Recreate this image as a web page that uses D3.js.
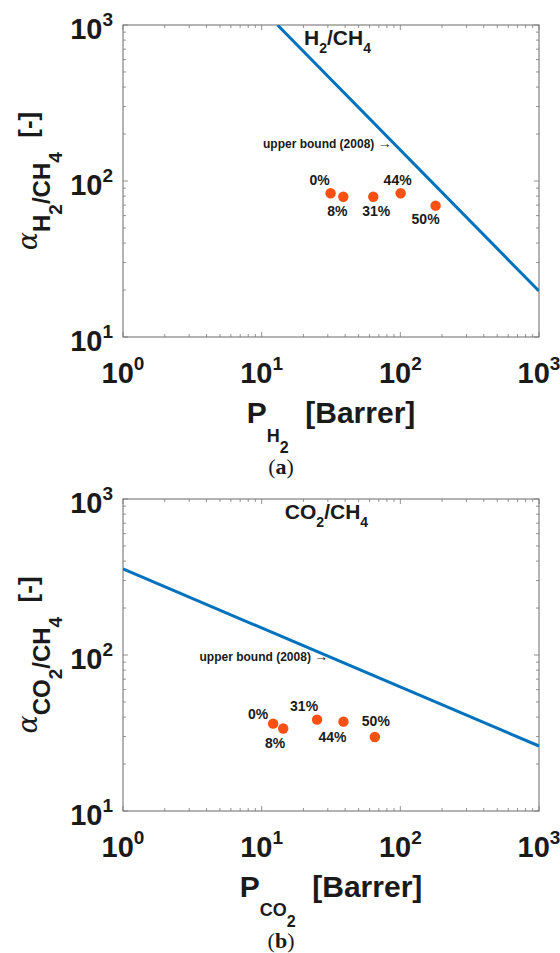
<!DOCTYPE html>
<html>
<head>
<meta charset="utf-8">
<script src="https://cdn.jsdelivr.net/npm/d3@7"></script>
<style>
  body { margin: 0; background: #fff; }
  svg { display: block; }
  text { font-family: "Liberation Sans", Arial, Helvetica, sans-serif; fill: #1a1a1a; }
</style>
</head>
<body>
<svg id="chart"></svg>
<script>
// data
const loadings = ["0%", "8%", "31%", "44%", "50%"]

const h2Perm = [31.4, 38.8, 63.8, 100.5, 179.6]
const h2Sel = [83.4, 79.3, 79.3, 83.4, 69.5]
const h2BoundPerm = [13.0, 1000]
const h2BoundSel = [1000, 19.7]

const co2Perm = [12.1, 14.3, 25.1, 38.9, 65.5]
const co2Sel = [36.3, 33.8, 38.5, 37.4, 29.8]
const co2BoundPerm = [1, 1000]
const co2BoundSel = [356, 26.1]

const xTicks = [1, 10, 100, 1000]
const yTicks = [10, 100, 1000]

// layout
var dimensions = {
  width: 560,
  height: 953,
  plotWidth: 416,
  plotHeight: 312,
  left: 123
}

const lineColor = "#0072bd"
const dotColor = "#fa5014"
const axisColor = "#777777"

var svg = d3.select("#chart")
  .attr("width", dimensions.width)
  .attr("height", dimensions.height)

var panels = [
  {
    top: 25, gas: "H", gasSub: "2", caption: "a",
    perm: h2Perm, sel: h2Sel, boundPerm: h2BoundPerm, boundSel: h2BoundSel,
    title: [20.2, 745], bound: [86.6, 162],
    // label offsets from each dot, px
    offsets: [[-11, -8], [-6, 19], [3, 19], [-3, -8], [-10, 18]]
  },
  {
    top: 499, gas: "CO", gasSub: "2", caption: "b",
    perm: co2Perm, sel: co2Sel, boundPerm: co2BoundPerm, boundSel: co2BoundSel,
    title: [14.7, 745], bound: [30.2, 91.0],
    offsets: [[-15, -5], [-8, 20], [-13, -9], [-11, 20], [1, -11]]
  }
]

panels.forEach(p => drawPanel(p))

function drawPanel(p) {
  var xScale = d3.scaleLog().domain([1, 1000]).range([0, dimensions.plotWidth])
  var yScale = d3.scaleLog().domain([10, 1000]).range([dimensions.plotHeight, 0])

  var bounds = svg.append("g")
    .attr("transform", `translate(${dimensions.left},${p.top})`)

  var clipId = "clip" + p.caption
  bounds.append("clipPath").attr("id", clipId)
    .append("rect")
    .attr("width", dimensions.plotWidth)
    .attr("height", dimensions.plotHeight)

  // minor + major ticks, inward on all four sides
  var minorX = []
  for (var e = 0; e < 3; e++) for (var m = 2; m < 10; m++) minorX.push(m * Math.pow(10, e))
  var minorY = []
  for (var e = 1; e < 3; e++) for (var m = 2; m < 10; m++) minorY.push(m * Math.pow(10, e))

  var ticks = bounds.append("g").attr("stroke", axisColor).attr("stroke-width", 0.8)
  function tickSet(vals, len) {
    vals.forEach(v => {
      var x = xScale(v)
      ticks.append("line").attr("x1", x).attr("x2", x).attr("y1", dimensions.plotHeight).attr("y2", dimensions.plotHeight - len)
      ticks.append("line").attr("x1", x).attr("x2", x).attr("y1", 0).attr("y2", len)
    })
  }
  function tickSetY(vals, len) {
    vals.forEach(v => {
      var y = yScale(v)
      ticks.append("line").attr("x1", 0).attr("x2", len).attr("y1", y).attr("y2", y)
      ticks.append("line").attr("x1", dimensions.plotWidth).attr("x2", dimensions.plotWidth - len).attr("y1", y).attr("y2", y)
    })
  }
  tickSet(minorX, 3)
  tickSet(xTicks, 5)
  tickSetY(minorY, 3)
  tickSetY(yTicks, 5)

  bounds.append("rect")
    .attr("width", dimensions.plotWidth)
    .attr("height", dimensions.plotHeight)
    .attr("fill", "none")
    .attr("stroke", axisColor)
    .attr("stroke-width", 1.1)

  // tick labels 10^n
  xTicks.forEach(v => {
    var t = bounds.append("text")
      .attr("x", xScale(v))
      .attr("y", dimensions.plotHeight + 46)
      .attr("text-anchor", "middle")
      .style("font-weight", "bold")
    t.append("tspan").style("font-size", "29px").text("10")
    t.append("tspan").style("font-size", "19px").attr("dy", -13).text(Math.round(Math.log10(v)))
  })
  yTicks.forEach(v => {
    var t = bounds.append("text")
      .attr("x", -10)
      .attr("y", yScale(v) + 14)
      .attr("text-anchor", "end")
      .style("font-weight", "bold")
    t.append("tspan").style("font-size", "29px").text("10")
    t.append("tspan").style("font-size", "19px").attr("dy", -13).text(Math.round(Math.log10(v)))
  })

  // upper bound line
  var boundData = p.boundPerm.map((d, i) => [d, p.boundSel[i]])
  bounds.append("path")
    .datum(boundData)
    .attr("clip-path", `url(#${clipId})`)
    .attr("fill", "none")
    .attr("stroke", lineColor)
    .attr("stroke-width", 3)
    .attr("d", d3.line().x(d => xScale(d[0])).y(d => yScale(d[1])))

  // membranes
  bounds.selectAll("circle.dot")
    .data(p.perm)
    .enter()
    .append("circle")
    .attr("class", "dot")
    .attr("cx", d => xScale(d))
    .attr("cy", (d, i) => yScale(p.sel[i]))
    .attr("r", 5.2)
    .attr("fill", dotColor)

  bounds.selectAll("text.pct")
    .data(loadings)
    .enter()
    .append("text")
    .attr("class", "pct")
    .attr("x", (d, i) => xScale(p.perm[i]) + p.offsets[i][0])
    .attr("y", (d, i) => yScale(p.sel[i]) + p.offsets[i][1])
    .attr("text-anchor", "middle")
    .style("font-size", "14px")
    .style("font-weight", "bold")
    .text(d => d)

  // annotation
  var ub = bounds.append("text")
    .attr("x", xScale(p.bound[0]))
    .attr("y", yScale(p.bound[1]))
    .attr("text-anchor", "end")
    .style("font-size", "12px")
    .style("font-weight", "bold")
  ub.append("tspan").text("upper bound (2008) ")
  ub.append("tspan").style("font-weight", "normal").style("font-size", "14px").text("\u2192")

  // title, e.g. H2/CH4
  var title = bounds.append("text")
    .attr("x", xScale(p.title[0]))
    .attr("y", yScale(p.title[1]))
    .style("font-weight", "bold")
  title.append("tspan").style("font-size", "21px").text(p.gas)
  title.append("tspan").style("font-size", "14px").attr("dy", 8).text(p.gasSub)
  title.append("tspan").style("font-size", "21px").attr("dy", -8).text("/CH")
  title.append("tspan").style("font-size", "14px").attr("dy", 8).text("4")

  // x label  P_{gas_2} [Barrer]
  var xl = bounds.append("text")
    .attr("x", dimensions.plotWidth / 2)
    .attr("y", dimensions.plotHeight + 86)
    .attr("text-anchor", "middle")
    .style("font-weight", "bold")
  xl.append("tspan").style("font-size", "30px").text("P")
  xl.append("tspan").style("font-size", "18px").attr("dy", 19).text(p.gas)
  xl.append("tspan").style("font-size", "16px").attr("dy", 11).text(p.gasSub)
  xl.append("tspan").style("font-size", "30px").attr("dy", -30).text("\u00a0\u00a0[Barrer]")

  // y label  alpha_{gas_2/CH_4} [-]
  var yl = bounds.append("text")
    .attr("transform", `translate(${37 - dimensions.left},${dimensions.plotHeight / 2}) rotate(-90)`)
    .attr("text-anchor", "middle")
    .style("font-weight", "bold")
  yl.append("tspan").style("font-family", "'DejaVu Serif', serif").style("font-style", "italic")
    .style("font-weight", "normal").style("font-size", "27px").text("\u03b1")
  yl.append("tspan").style("font-size", "24px").attr("dy", 13).text(p.gas)
  yl.append("tspan").style("font-size", "19px").attr("dy", 12).text(p.gasSub)
  yl.append("tspan").style("font-size", "24px").attr("dy", -12).text("/CH")
  yl.append("tspan").style("font-size", "19px").attr("dy", 12).text("4")
  yl.append("tspan").style("font-size", "26px").attr("dy", -25).text("\u00a0\u00a0[-]")

  // caption
  var cap = svg.append("text")
    .attr("x", 281)
    .attr("y", p.top + dimensions.plotHeight + 137)
    .attr("text-anchor", "middle")
    .style("font-family", "'Liberation Serif', 'DejaVu Serif', serif")
    .style("font-size", "22px")
  cap.append("tspan").text("(")
  cap.append("tspan").style("font-weight", "bold").text(p.caption)
  cap.append("tspan").text(")")
}
</script>
</body>
</html>
